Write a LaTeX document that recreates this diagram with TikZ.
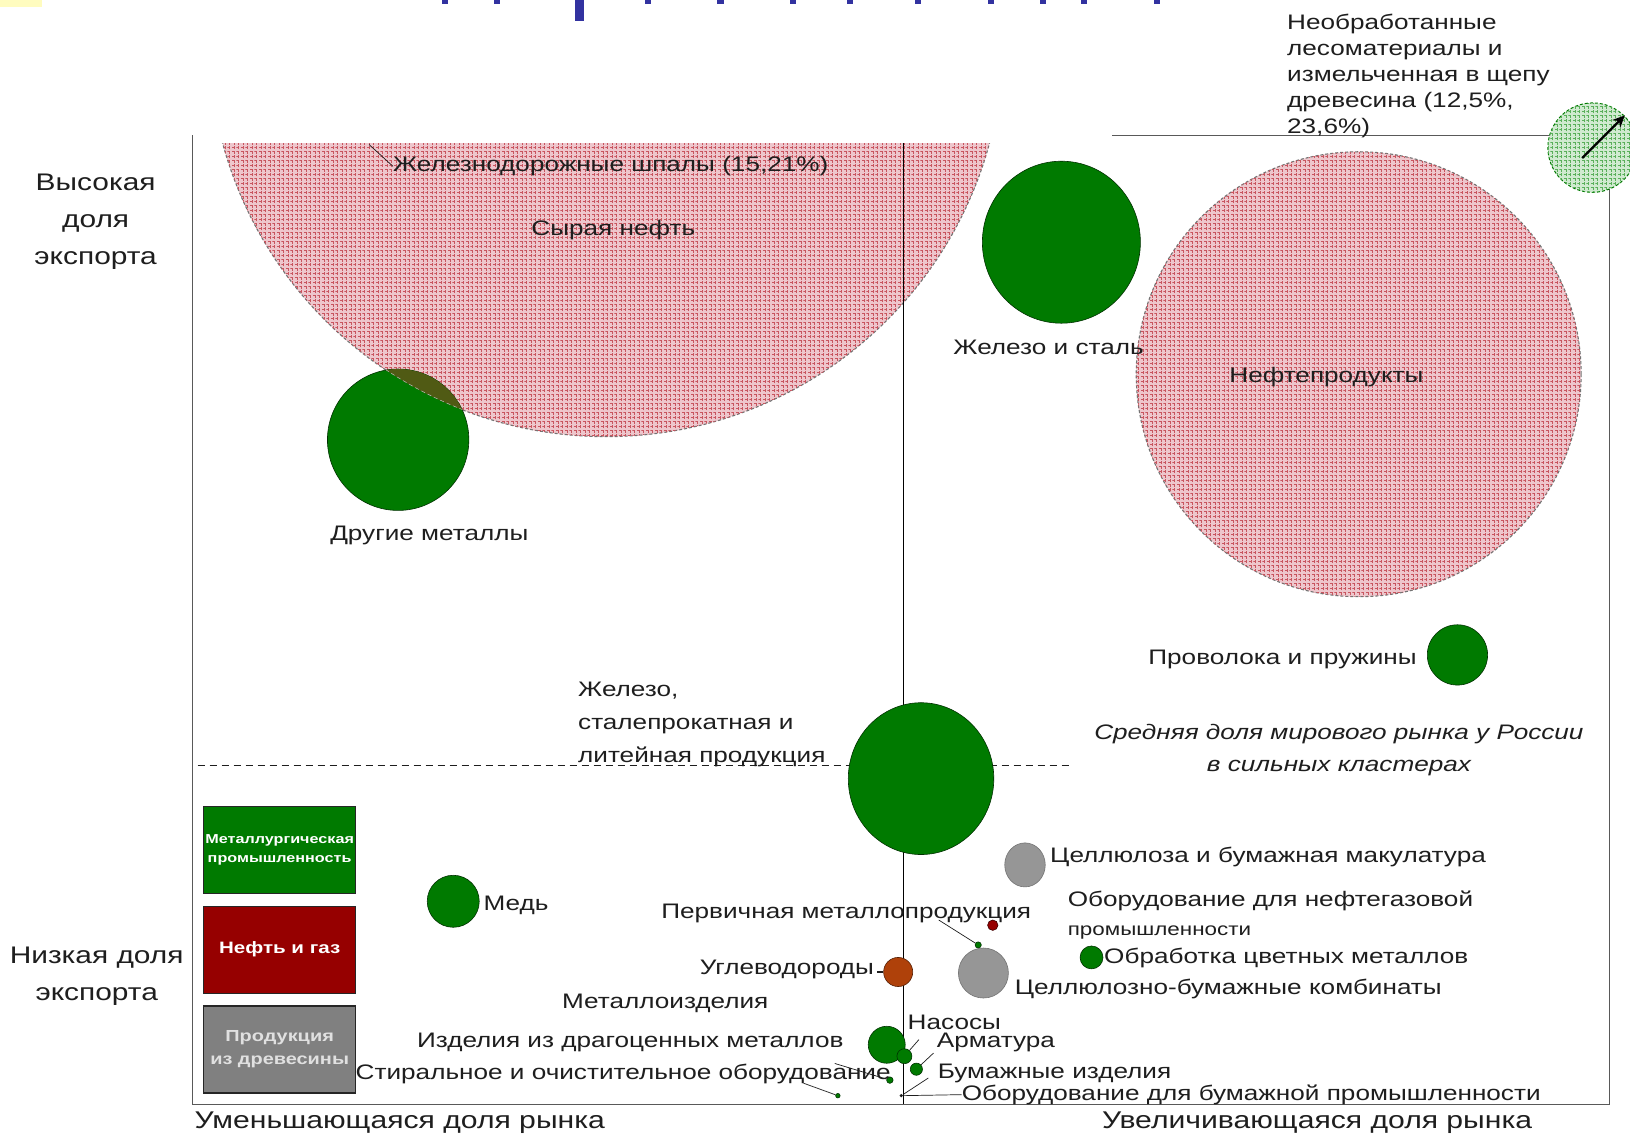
\documentclass[tikz,border=0pt]{standalone}
\usepackage{fontspec}
\setmainfont{Liberation Sans}[FakeStretch=1.245]
\usetikzlibrary{patterns.meta,arrows.meta,shapes.geometric}
\definecolor{bgreen}{RGB}{0,122,0}
\definecolor{oilred}{RGB}{150,0,0}
\definecolor{woodgray}{RGB}{128,128,128}
\definecolor{bubgray}{RGB}{150,150,150}
\definecolor{hydro}{RGB}{175,65,10}
\definecolor{pinkfill}{RGB}{238,198,204}
\definecolor{pinkline}{RGB}{200,85,95}
\definecolor{olivegreen}{RGB}{80,90,20}
\definecolor{lgreen}{RGB}{208,234,208}
\definecolor{lgreenline}{RGB}{90,175,90}
\definecolor{txt}{RGB}{30,30,30}
\definecolor{titleblue}{RGB}{50,50,160}
\begin{document}
\begin{tikzpicture}[x=1.0395pt,y=-1.0395pt,
  lbl/.style={font=\fontsize{21}{25}\selectfont, inner sep=0pt, text=txt},
  axlbl/.style={font=\fontsize{24}{37}\selectfont, inner sep=0pt, text=txt, align=center},
  bub/.style={circle, inner sep=0pt, line width=0.6pt},
  gbub/.style={bub, fill=bgreen, draw=black!60!bgreen},
  graybub/.style={bub, fill=bubgray, draw=black!55},
  pinkbub/.style={circle, inner sep=0pt, fill=pinkfill, draw=black!55, dash pattern=on 3pt off 2pt, line width=1.1pt,
     postaction={pattern={Hatch[distance=4.5pt,angle=0,line width=0.9pt]}, pattern color=pinkline}},
  legbox/.style={rectangle, inner sep=0pt, minimum width=151.8pt, minimum height=87pt, draw=black!85, line width=1.2pt, align=center},
  leader/.style={draw=txt, line width=0.7pt},
  frame/.style={draw=black!65, line width=1pt}]
\useasboundingbox (0,0) rectangle (1568,1094);
\fill[white] (0,0) rectangle (1568,1094);
% title remnants at the top
\fill[yellow!25] (0,0) rectangle (40,7);
\foreach \xx in {425,475,620,690,760,815,880,950,1000,1040,1110}{\fill[titleblue] (\xx,0) rectangle ++(6,4);}
\fill[titleblue] (553,0) rectangle (562,20);
% frame lines
\draw[frame] (185,130) -- (185,1062) -- (1548,1062) -- (1548,130);
\draw[frame] (1070,130) -- (1568,130);
% crude oil (clipped at the top of the plot)
\begin{scope}
  \clip (185,138) rectangle (1100,1062);
  \node[pinkbub, minimum size=794.2pt] (crude) at (583,38) {};
\end{scope}
% other metals and overlap
\node[gbub, minimum size=141.4pt] (othm) at (383,423) {};
\begin{scope}
  \clip (583,38) circle[radius=382];
  \fill[olivegreen] (383,423) circle[radius=68];
  \clip (383,423) circle[radius=68];
  \draw[white!75!black, line width=1pt, dash pattern=on 4pt off 3pt] (583,38) circle[radius=382];
\end{scope}
% center lines
\draw[black, line width=1.1pt] (869,138) -- (869,1062);
\draw[txt, line width=1pt, dash pattern=on 7pt off 5pt] (190,736) -- (1032,736);
% bubbles
\node[gbub, ellipse, minimum width=158pt, minimum height=162pt] (irst) at (1021,233) {};
\node[pinkbub, minimum size=444.9pt] (petro) at (1307,360) {};
\node[circle, inner sep=0pt, minimum size=89.4pt, fill=lgreen, draw=bgreen, line width=1pt, dash pattern=on 3pt off 2pt,
  postaction={pattern={Hatch[distance=4.5pt,angle=0,line width=0.9pt]}, pattern color=lgreenline}] (wood) at (1532,142) {};
\node[gbub, minimum size=60.3pt] (wire) at (1402,630) {};
\node[gbub, ellipse, minimum width=145.5pt, minimum height=151.8pt] (ircast) at (886,749) {};
\node[gbub, minimum size=52pt] (copper) at (436,867) {};
\node[graybub, ellipse, minimum width=40.5pt, minimum height=44pt] (cellw) at (986,832) {};
\node[bub, fill=oilred, draw=black!60!oilred, minimum size=10.4pt] (oileq) at (955,890) {};
\node[gbub, minimum size=6.2pt] (primm) at (941,909) {};
\node[gbub, minimum size=22.9pt] (nonfer) at (1050,921) {};
\node[graybub, minimum size=50pt] (pulp) at (946,936) {};
\node[bub, fill=hydro, draw=black!50!hydro, minimum size=29.1pt] (hydroc) at (864,935) {};
\node[gbub, minimum size=37pt] (metp) at (853,1005) {};
\node[gbub, minimum size=15pt] (pumps) at (870,1016) {};
\node[gbub, minimum size=12.2pt] (armat) at (881.5,1028.5) {};
\node[gbub, minimum size=6.5pt] (wash) at (856,1039) {};
\node[gbub, minimum size=4.5pt] (wash2) at (806,1054) {};
\node[bub, fill=txt, minimum size=3.5pt] (papeq) at (867,1054) {};
% legend
\node[legbox, fill=bgreen, text=white, font=\bfseries\fontsize{13}{19}\selectfont] (legm) at (269,817.5) {Металлургическая\\промышленность};
\node[legbox, fill=oilred, text=white, font=\bfseries\fontsize{16.5}{22}\selectfont] (lego) at (269,913.5) {Нефть и газ};
\node[legbox, fill=woodgray, text=white!88!black, font=\bfseries\fontsize{16}{23}\selectfont] (legw) at (269,1009.5) {Продукция\\из древесины};
% labels
\node[lbl, anchor=west] (l-rail) at (378,160) {Железнодорожные шпалы (15,21\%)};
\coordinate (rail-end) at (355,139);
\draw[leader] (rail-end) -- (l-rail.west);
\node[lbl] (l-crude) at (590,221) {Сырая нефть};
\node[lbl] (l-othm) at (413,515) {Другие металлы};
\node[lbl, anchor=west] (l-irst) at (917,334) {Железо и сталь};
\node[lbl] (l-petro) at (1276,363) {Нефтепродукты};
\node[lbl, anchor=north west, align=left, font=\fontsize{21}{26}\selectfont] (l-wood) at (1238,13)
  {Необработанные\\лесоматериалы и\\измельченная в щепу\\древесина (12,5\%,\\23,6\%)};
\coordinate (arr-tail) at (1522,152);
\coordinate (arr-head) at (1563,111);
\draw[black, line width=2.2pt, -{Stealth[length=12pt,width=11pt]}] (arr-tail) -- (arr-head);
\node[lbl, anchor=east] (l-wire) at (1363,634) {Проволока и пружины};
\node[lbl, align=center, font=\itshape\fontsize{21}{32}\selectfont] (l-avg) at (1288,722) {Средняя доля мирового рынка у России\\в сильных кластерах};
\node[lbl, anchor=north west, align=left, font=\fontsize{21}{33}\selectfont] (l-ircast) at (556,656) {Железо,\\сталепрокатная и\\литейная продукция};
\node[lbl, anchor=west] (l-copper) at (465,871) {Медь};
\node[lbl, anchor=west] (l-cellw) at (1010,824) {Целлюлоза и бумажная макулатура};
\node[lbl, anchor=west] (l-oileq) at (1027,867) {Оборудование для нефтегазовой};
\node[lbl, anchor=west, font=\fontsize{18}{22}\selectfont] (l-oileq2) at (1027,897) {промышленности};
\node[lbl, anchor=west] (l-primm) at (636,879) {Первичная металлопродукция};
\draw[leader] (903,885) -- (primm);
\node[lbl, anchor=west] (l-nonfer) at (1062,922) {Обработка цветных металлов};
\node[lbl, anchor=west] (l-pulp) at (976,951) {Целлюлозно-бумажные комбинаты};
\node[lbl, anchor=east] (l-hydro) at (841,933) {Углеводороды};
\draw[txt, line width=2.5pt] (l-hydro.east) ++(3,2) -- (hydroc.west);
\node[lbl] (l-metp) at (640,965) {Металлоизделия};
\node[lbl, anchor=west] (l-prec) at (401,1003) {Изделия из драгоценных металлов};
\node[lbl, anchor=west] (l-pumps) at (873,983) {Насосы};
\draw[leader] (884,1000) -- (pumps);
\node[lbl, anchor=west] (l-armat) at (901,1003) {Арматура};
\draw[leader] (898,1013) -- (armat);
\node[lbl, anchor=west] (l-wash) at (342,1033) {Стиральное и очистительное оборудование};
\draw[leader] (803,1023) -- (wash);
\draw[leader] (773,1042) -- (wash2);
\node[lbl, anchor=west] (l-paper) at (902,1033) {Бумажные изделия};
\draw[leader] (893,1037) -- (papeq);
\node[lbl, anchor=west] (l-papeq) at (925,1053) {Оборудование для бумажной промышленности};
\draw[leader] (l-papeq.west) -- (papeq);
% axis labels
\node[axlbl] (l-high) at (92,213) {Высокая\\доля\\экспорта};
\node[axlbl] (l-low) at (93,939) {Низкая доля\\экспорта};
\node[lbl, anchor=west, font=\fontsize{24.2}{28}\selectfont] (l-dec) at (187,1080) {Уменьшающаяся доля рынка};
\node[lbl, anchor=west, font=\fontsize{24.2}{28}\selectfont] (l-inc) at (1060,1080) {Увеличивающаяся доля рынка};
\end{tikzpicture}
\end{document}
